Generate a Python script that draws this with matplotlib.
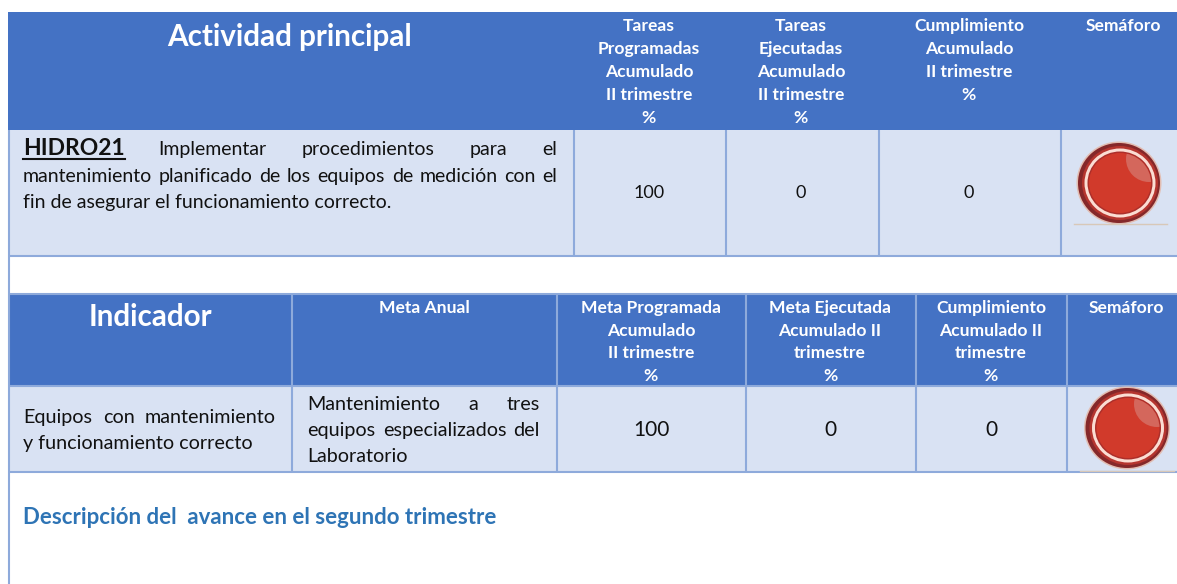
import matplotlib
matplotlib.use('Agg')
from matplotlib import pyplot as plt
from matplotlib.patches import Rectangle, Ellipse

HEADER = '#4472C4'
ROW = '#D9E2F3'
BORDER = '#8EAADB'
BLUE_TEXT = '#2E74B5'
FONT = 'Lato'

# top table
top_title = 'Actividad principal'
top_headers = [
    ['Tareas', 'Programadas', 'Acumulado', 'II trimestre', '%'],
    ['Tareas', 'Ejecutadas', 'Acumulado', 'II trimestre', '%'],
    ['Cumplimiento', 'Acumulado', 'II trimestre', '%'],
    ['Semáforo'],
]
top_values = ['100', '0', '0']
activity_code = 'HIDRO21'
activity_line1 = ['Implementar', 'procedimientos', 'para', 'el']
activity_line2 = ['mantenimiento', 'planificado', 'de', 'los', 'equipos', 'de', 'medición', 'con', 'el']
activity_line3 = 'fin de asegurar el funcionamiento correcto.'

# bottom table
bottom_title = 'Indicador'
bottom_headers = [
    ['Meta Anual'],
    ['Meta Programada', 'Acumulado', 'II trimestre', '%'],
    ['Meta Ejecutada', 'Acumulado II', 'trimestre', '%'],
    ['Cumplimiento', 'Acumulado II', 'trimestre', '%'],
    ['Semáforo'],
]
bottom_values = ['100', '0', '0']
indicator_line1 = ['Equipos', 'con', 'mantenimiento']
indicator_line2 = 'y funcionamiento correcto'
goal_line1 = ['Mantenimiento', 'a', 'tres']
goal_line2 = ['equipos', 'especializados', 'del']
goal_line3 = 'Laboratorio'
description = 'Descripción del  avance en el segundo trimestre'

fig = plt.figure(figsize=(11.77, 5.84), dpi=100)
ax = fig.add_axes([0, 0, 1, 1])
ax.set_xlim(0, 1177)
ax.set_ylim(584, 0)
ax.axis('off')


def box(x0, y0, x1, y1, color):
    ax.add_patch(Rectangle((x0, y0), x1 - x0, y1 - y0, facecolor=color, edgecolor='none', zorder=1))


def vline(x, y0, y1):
    ax.plot([x, x], [y0, y1], color=BORDER, lw=1.5, zorder=2, solid_capstyle='butt')


def hline(x0, x1, y):
    ax.plot([x0, x1], [y, y], color=BORDER, lw=1.5, zorder=2, solid_capstyle='butt')


def text_width(t):
    r = fig.canvas.get_renderer()
    return t.get_window_extent(r).width


def justify(words, x0, x1, y, size):
    # spread the words over the cell width like the justified cells in the original
    items = [ax.text(0, y, w, fontsize=size, family=FONT, color='#111111', va='baseline', ha='left', zorder=4) for w in words]
    widths = [text_width(t) for t in items]
    gap = (x1 - x0 - sum(widths)) / (len(words) - 1)
    x = x0
    for t, w in zip(items, widths):
        t.set_x(x)
        x += w + gap


def button(cx, cy, rx, ry):
    # red semaforo light
    ax.add_patch(Ellipse((cx, cy), 2 * rx, 2 * ry, facecolor='#E2BDB2', edgecolor='none', zorder=3))
    ax.add_patch(Ellipse((cx, cy), 2 * rx - 3, 2 * ry - 3, facecolor='#85282A', edgecolor='none', zorder=3))
    ax.add_patch(Ellipse((cx + 1, cy), 2 * rx - 9, 2 * ry - 9, facecolor='#B5352F', edgecolor='none', zorder=3))
    ax.add_patch(Ellipse((cx + 1, cy), 2 * rx - 14, 2 * ry - 14, facecolor='#FBDDD3', edgecolor='none', zorder=3))
    ax.add_patch(Ellipse((cx + 1, cy), 2 * rx - 20, 2 * ry - 20, facecolor='#AD2F2A', edgecolor='none', zorder=3))
    inner = Ellipse((cx + 1, cy), 2 * rx - 23, 2 * ry - 23, facecolor='#D13A2B', edgecolor='none', zorder=3)
    ax.add_patch(inner)
    shine = Ellipse((cx + 30, cy - 24), 46, 46, facecolor='#D4675C', edgecolor='none', zorder=3)
    ax.add_patch(shine)
    shine.set_clip_path(inner)


# top table
box(8, 12, 1177, 130, HEADER)
box(8, 130, 1177, 255, ROW)
for x in [574, 726, 879, 1061]:
    vline(x, 130, 255)
hline(8, 1177, 255.5)
hline(8, 1177, 293.5)
vline(8.5, 130, 584)

ax.text(290, 37, top_title, fontsize=21.3, family=FONT, weight='bold', color='white', ha='center', va='center', zorder=4)
top_centers = [649, 801, 969, 1123]
top_line_y = [31, 54, 77, 100, 123]
for cx, lines in zip(top_centers, top_headers):
    for y, line in zip(top_line_y, lines):
        ax.text(cx, y, line, fontsize=12.6, family=FONT, weight='bold', color='white', ha='center', va='baseline', zorder=4)
for cx, v in zip(top_centers, top_values):
    ax.text(cx, 193, v, fontsize=13, family=FONT, color='#111111', ha='center', va='center', zorder=4)

ax.text(23, 155, activity_code, fontsize=16.5, family=FONT, weight='bold', color='#111111', va='baseline', ha='left', zorder=4)
code_w = text_width(ax.texts[-1])
ax.plot([23, 23 + code_w], [159, 159], color='#111111', lw=1.5, zorder=4)
justify(activity_line1, 158, 557, 155, 14)
justify(activity_line2, 23, 557, 182, 14)
ax.text(23, 208, activity_line3, fontsize=14, family=FONT, color='#111111', va='baseline', ha='left', zorder=4)
button(1119, 183, 42.5, 41.5)
ax.plot([1074, 1167], [224, 224], color='#D8C8B8', lw=1, zorder=3)

# bottom table
box(9, 294, 1177, 386, HEADER)
box(9, 386, 1177, 471, ROW)
for x in [292, 557, 746, 916, 1067]:
    vline(x, 294, 471)
hline(8, 1177, 386)
hline(8, 1177, 471.5)

ax.text(150, 317, bottom_title, fontsize=21.3, family=FONT, weight='bold', color='white', ha='center', va='center', zorder=4)
bottom_centers = [424, 651, 830, 991, 1126]
bottom_line_y = [313, 336, 358, 381]
for cx, lines in zip(bottom_centers, bottom_headers):
    for y, line in zip(bottom_line_y, lines):
        ax.text(cx, y, line, fontsize=12.6, family=FONT, weight='bold', color='white', ha='center', va='baseline', zorder=4)
for cx, v in zip(bottom_centers[1:4], bottom_values):
    ax.text(cx, 430, v, fontsize=15, family=FONT, color='#111111', ha='center', va='center', zorder=4)

justify(indicator_line1, 23, 276, 423, 14.2)
ax.text(23, 449, indicator_line2, fontsize=14.2, family=FONT, color='#111111', va='baseline', ha='left', zorder=4)
justify(goal_line1, 307, 540, 410, 14.2)
justify(goal_line2, 307, 540, 436, 14.2)
ax.text(307, 462, goal_line3, fontsize=14.2, family=FONT, color='#111111', va='baseline', ha='left', zorder=4)
button(1127, 428, 43, 41.5)
ax.plot([1080, 1174], [471, 471], color='#D8C8B8', lw=1, zorder=3)

ax.text(23, 518, description, fontsize=16, family=FONT, weight='bold', color=BLUE_TEXT, va='center', ha='left', zorder=4)

fig.savefig('out.png', dpi=100)
